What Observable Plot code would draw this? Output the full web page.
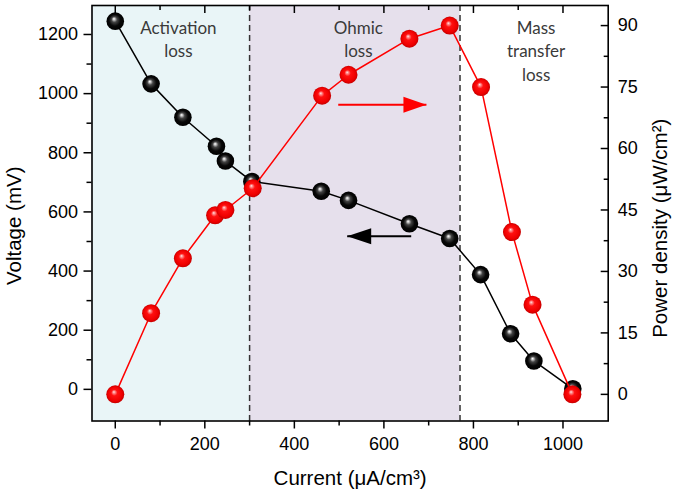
<!DOCTYPE html>
<html>
<head>
<meta charset="utf-8">
<script src="https://cdn.jsdelivr.net/npm/d3@7"></script>
<script src="https://cdn.jsdelivr.net/npm/@observablehq/plot@0.6"></script>
<style>
  body { margin: 0; background: white; }
</style>
</head>
<body>
<div id="chart"></div>
<script>
// ---- data ----
const vCurrent = [0, 80, 151, 226, 246, 305, 460, 521, 657, 747, 816, 883, 935, 1022];
const voltage  = [1245, 1033, 920, 822, 772, 703, 670, 639, 560, 510, 388, 188, 96, 2];
const pCurrent = [0, 80, 151, 223, 246, 307, 462, 521, 657, 747, 817, 886, 932, 1021];
const power    = [0, 19.8, 33.2, 43.7, 45.0, 50.3, 72.9, 78.0, 86.8, 90.0, 75.0, 39.6, 21.9, 0];

const regionStart = [-52, 300];
const regionEnd   = [300, 770];
const regionFill  = ["#e9f5f7", "#e6e0ec"];
const boundaries  = [300, 770];

const regionLabels = ["Activation\nloss", "Ohmic\nloss", "Mass\ntransfer\nloss"];
const regionLabelX = [141, 543, 940];

const xMajor = [0, 200, 400, 600, 800, 1000];
const xMinor = [100, 300, 500, 700, 900];
const yMajor = [0, 200, 400, 600, 800, 1000, 1200];
const yMinor = [100, 300, 500, 700, 900, 1100];
const pMajor = [0, 15, 30, 45, 60, 75, 90];
const pMinor = [7.5, 22.5, 37.5, 52.5, 67.5, 82.5];

// arrows: start x, tip x, y value
const arrowRed   = {x1: 498, x2: 695, y: 70.7};   // power axis
const arrowBlack = {x1: 661, x2: 518, y: 518};    // voltage axis

// ---- scales ----
const xDomain = [-52, 1101];
const vDomain = [-107, 1298];
const pDomain = [-6.5, 94.9];
const toV = p => vDomain[0] + (p - pDomain[0]) * (vDomain[1] - vDomain[0]) / (pDomain[1] - pDomain[0]);
const toP = v => pDomain[0] + (v - vDomain[0]) * (pDomain[1] - pDomain[0]) / (vDomain[1] - vDomain[0]);

const vData = vCurrent.map((c, i) => ({c, v: voltage[i]}));
const pData = pCurrent.map((c, i) => ({c, v: toV(power[i])}));
const regions = regionStart.map((s, i) => ({x1: s, x2: regionEnd[i], fill: regionFill[i]}));
const labels = regionLabels.map((t, i) => ({t, x: regionLabelX[i]}));

const headRight = { draw(ctx) { ctx.moveTo(0, 0); ctx.lineTo(-23, -8); ctx.lineTo(-23, 8); ctx.closePath(); } };
const headLeft  = { draw(ctx) { ctx.moveTo(0, 0); ctx.lineTo(24, -8); ctx.lineTo(24, 8); ctx.closePath(); } };

const none = () => "";
const plain = d => String(d);
const FONT = "'Liberation Sans', Arial, sans-serif";
const ax = {strokeWidth: 1.5, label: null, fontFamily: FONT, fontSize: 18};

const plot = Plot.plot({
  width: 675,
  height: 495,
  marginLeft: 91.5,
  marginRight: 67.3,
  marginTop: 5,
  marginBottom: 74.5,
  style: {fontFamily: FONT, fontSize: "18px", background: "white", color: "black"},
  x: {domain: xDomain},
  y: {domain: vDomain},
  marks: [
    Plot.rect(regions, {x1: "x1", x2: "x2", fill: d => d.fill}),
    Plot.ruleX(boundaries, {stroke: "#333", strokeWidth: 1.5, strokeDasharray: "6,4"}),
    Plot.text(labels, {x: "x", text: "t", frameAnchor: "top", lineAnchor: "top", dy: 11.5, lineHeight: 1.38,
      fontFamily: "Lato, 'Open Sans', sans-serif", fontSize: 17, fill: "#3a3a3a"}),
    // black arrow
    Plot.link([arrowBlack], {x1: "x1", x2: "x2", y1: "y", y2: "y", stroke: "black", strokeWidth: 2}),
    Plot.dot([arrowBlack], {x: "x2", y: "y", symbol: headLeft, fill: "black", stroke: "none"}),
    // red arrow
    Plot.link([arrowRed], {x1: "x1", x2: "x2", y1: d => toV(d.y), y2: d => toV(d.y), stroke: "#f00", strokeWidth: 2}),
    Plot.dot([arrowRed], {x: "x2", y: d => toV(d.y), symbol: headRight, fill: "#f00", stroke: "none"}),
    // voltage series
    Plot.line(vData, {x: "c", y: "v", stroke: "black", strokeWidth: 1.5}),
    Plot.dot(vData, {x: "c", y: "v", r: 8.8, fill: "url(#ballBlack)", stroke: "none"}),
    // power series
    Plot.line(pData, {x: "c", y: "v", stroke: "#f00", strokeWidth: 1.5}),
    Plot.dot(pData, {x: "c", y: "v", r: 9, fill: "url(#ballRed)", stroke: "none"}),
    // frame
    Plot.frame({stroke: "black", strokeWidth: 1.6}),
    // axes
    Plot.axisX(xMajor, {...ax, anchor: "bottom", tickSize: 8, tickPadding: 8, tickFormat: plain}),
    Plot.axisX(xMinor, {...ax, anchor: "bottom", tickSize: 5, tickFormat: none}),
    Plot.axisX(xMajor, {...ax, anchor: "top", tickSize: -7, tickFormat: none}),
    Plot.axisX(xMinor, {...ax, anchor: "top", tickSize: -4, tickFormat: none}),
    Plot.axisY(yMajor, {...ax, anchor: "left", tickSize: 8, tickPadding: 6, tickFormat: plain}),
    Plot.axisY(yMinor, {...ax, anchor: "left", tickSize: 5, tickFormat: none}),
    Plot.axisY(pMajor.map(toV), {...ax, anchor: "right", tickSize: -8, tickFormat: none}),
    Plot.axisY(pMajor.map(toV), {...ax, anchor: "right", tickSize: 0, tickPadding: 9.5, tickFormat: v => String(Math.round(toP(v)))}),
    Plot.axisY(pMinor.map(toV), {...ax, anchor: "right", tickSize: -5, tickFormat: none}),
    // axis titles
    Plot.text(["Current (μA/cm³)"], {frameAnchor: "bottom", lineAnchor: "middle", textAnchor: "middle", dy: 57, fontSize: 20.5, fontFamily: FONT, fill: "black"}),
    Plot.text(["Voltage (mV)"], {frameAnchor: "left", lineAnchor: "middle", textAnchor: "middle", dx: -77.5, dy: 12.5, rotate: -90, fontSize: 20.5, fontFamily: FONT, fill: "black"}),
    Plot.text(["Power density (μW/cm²)"], {frameAnchor: "right", lineAnchor: "middle", textAnchor: "middle", dx: 52.5, dy: 15, rotate: -90, fontSize: 20.5, fontFamily: FONT, fill: "black"})
  ]
});

// sphere-like gradients
const svg = d3.select(plot);
const defs = svg.insert("defs", ":first-child");
function ball(id, stops) {
  const g = defs.append("radialGradient").attr("id", id)
    .attr("cx", "50%").attr("cy", "50%").attr("r", "50%").attr("fx", "42%").attr("fy", "36%");
  stops.forEach(([o, c]) => g.append("stop").attr("offset", o).attr("stop-color", c));
}
ball("ballBlack", [["0%", "#ffffff"], ["10%", "#d0d0d0"], ["32%", "#444"], ["65%", "#080808"], ["100%", "#000"]]);
ball("ballRed", [["0%", "#fff0f0"], ["10%", "#ffa0a0"], ["35%", "#ff1010"], ["80%", "#ee0000"], ["100%", "#c40000"]]);

document.getElementById("chart").appendChild(plot);
</script>
</body>
</html>
